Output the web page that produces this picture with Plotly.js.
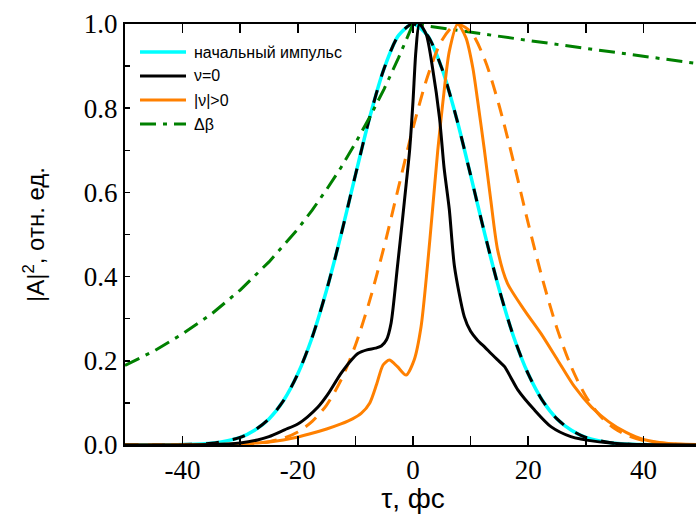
<!DOCTYPE html>
<html>
<head>
<meta charset="utf-8">
<script src="https://cdn.plot.ly/plotly-3.0.1.min.js"></script>
<style>
  html, body { margin: 0; padding: 0; overflow: hidden; background: #fff; }
  #chart { width: 702px; height: 514px; }
</style>
</head>
<body>
<div id="chart"></div>
<script>
// ---- data ----
// initial pulse (cyan) – also traced by the black dashed curve
var tauInit = [-50, -45, -40, -35, -30, -27.5, -25, -22.5, -20, -17.5, -15, -12.5, -10, -7.5, -5, -2.5, 0,
               2.5, 5, 7.5, 10, 12.5, 15, 17.5, 20, 22.5, 25, 27.5, 30, 35, 40, 45, 50];
var aInit   = [0, 0, 0.001, 0.004, 0.018, 0.035, 0.062, 0.105, 0.169, 0.256, 0.368, 0.499, 0.641, 0.779, 0.895, 0.973, 1.0,
               0.973, 0.895, 0.779, 0.641, 0.499, 0.368, 0.256, 0.169, 0.105, 0.062, 0.035, 0.018, 0.004, 0.001, 0, 0];

// ν = 0 (black solid)
var tauNu0 = [-50, -40, -35, -30, -27, -25, -22.3, -20, -18.3, -16.5, -14.8, -12.5, -10.5, -9.5, -8, -6.5, -5.5, -4.6, -3.8,
              -2.7, -1.8, -1.2, -0.6, 0, 0.5, 1.1, 2.3, 3.4, 4.6, 5.4, 6.3, 7.2, 8.9, 10, 11.2, 12.5, 13.5, 15, 15.9, 17,
              18.2, 21.1, 24, 27.4, 32, 36, 40, 50];
var aNu0   = [0, 0, 0.001, 0.005, 0.012, 0.02, 0.036, 0.05, 0.067, 0.09, 0.12, 0.17, 0.205, 0.218, 0.226, 0.23, 0.235, 0.25, 0.29,
              0.424, 0.539, 0.618, 0.698, 0.816, 0.935, 1.0, 0.975, 0.895, 0.777, 0.658, 0.56, 0.424, 0.305, 0.27, 0.249, 0.232, 0.218, 0.198, 0.186, 0.16,
              0.131, 0.083, 0.043, 0.02, 0.008, 0.003, 0.001, 0];

// |ν| > 0 (orange solid)
var tauNu1 = [-50, -45, -35, -30, -27, -24, -21, -18, -15, -12.5, -10.5, -9, -7.5, -6.3, -5.2, -4.1, -2.7, -1.2, 0.2, 1.4, 2.5,
              3.4, 4.3, 5.2, 6.3, 7.75, 9.2, 10.4, 11.2, 12.4, 13.5, 14.7, 16.4, 19.3, 22.2, 25.1, 28, 31, 34,
              37, 40, 44, 50];
var aNu1   = [0, 0, 0.001, 0.003, 0.005, 0.009, 0.016, 0.026, 0.038, 0.05, 0.062, 0.075, 0.1, 0.145, 0.19, 0.202, 0.186, 0.166, 0.202, 0.281, 0.424,
              0.56, 0.70, 0.816, 0.935, 1.0, 0.967, 0.895, 0.82, 0.70, 0.582, 0.463, 0.384, 0.321, 0.265, 0.202, 0.139, 0.09, 0.055,
              0.03, 0.013, 0.004, 0.001];

// shifted pulse (orange dashed)
var tauShift = [-50, -40, -35, -30, -27.5, -25, -22.5, -20, -17.5, -15, -12.5, -10, -7.5, -5, -2.5, 0, 2.5, 5, 7.5,
                10, 12.5, 15, 17.5, 20, 22.5, 25, 27.5, 30, 32.5, 35, 37.5, 40, 45, 50];
var aShift   = [0, 0, 0.0003, 0.0016, 0.0037, 0.0079, 0.016, 0.031, 0.056, 0.095, 0.154, 0.237, 0.344, 0.472, 0.613, 0.753, 0.874, 0.961, 0.999,
                0.982, 0.914, 0.804, 0.670, 0.527, 0.393, 0.277, 0.185, 0.116, 0.069, 0.039, 0.021, 0.0106, 0.0023, 0.0004];

// Δβ (green dash-dot)
var tauBeta = [-50, -45, -40, -35, -30, -25, -20, -17.5, -15, -12.5, -10, -7.5, -5, -2.5, 0, 5, 10, 20, 30, 40, 50];
var aBeta   = [0.189, 0.223, 0.264, 0.311, 0.368, 0.435, 0.513, 0.558, 0.607, 0.659, 0.717, 0.779, 0.846, 0.920, 1.0,
               0.990, 0.980, 0.961, 0.942, 0.923, 0.905];

var legendNames = ['начальный импульс', 'ν=0', '|ν|>0', 'Δβ'];
var xTickVals = [-40, -20, 0, 20, 40];
var xTickText = ['-40', '-20', '0', '20', '40'];
var yTickVals = [0, 0.2, 0.4, 0.6, 0.8, 1.0];
var yTickText = ['0.0', '0.2', '0.4', '0.6', '0.8', '1.0'];

// ---- styles ----
var styles = [
  {color: '#00FFFF', width: 3.5, dash: 'solid'},   // initial
  {color: '#000000', width: 3, dash: 'solid'},     // ν=0
  {color: '#FF8000', width: 3, dash: 'solid'},     // |ν|>0
  {color: '#008000', width: 3, dash: '16px,7px,4px,7px'} // Δβ
];

var traces = [
  {x: tauInit, y: aInit, mode: 'lines', name: legendNames[0],
   line: {color: styles[0].color, width: styles[0].width, shape: 'spline', smoothing: 0.8}},
  {x: tauInit, y: aInit, mode: 'lines', name: 'initial (dashed)',
   line: {color: '#000000', width: 3, dash: '13px,14px', shape: 'spline', smoothing: 0.8}},
  {x: tauBeta, y: aBeta, mode: 'lines', name: legendNames[3],
   line: {color: styles[3].color, width: styles[3].width, dash: styles[3].dash}},
  {x: tauShift, y: aShift, mode: 'lines', name: 'shifted (dashed)',
   line: {color: '#FF8000', width: 3, dash: '14px,9px', shape: 'spline', smoothing: 0.8}},
  {x: tauNu1, y: aNu1, mode: 'lines', name: legendNames[2],
   line: {color: styles[2].color, width: styles[2].width, shape: 'spline', smoothing: 0.7}},
  {x: tauNu0, y: aNu0, mode: 'lines', name: legendNames[1],
   line: {color: styles[1].color, width: styles[1].width, shape: 'spline', smoothing: 0.7}}
];

// ---- hand-placed legend (paper coords) ----
var plotL = 125, plotW = 576, plotT = 24, plotH = 421;
function px2x(p) { return (p - plotL) / plotW; }
function px2y(p) { return (plotT + plotH - p) / plotH; }
var legRows = [52, 76, 100, 124];
var shapes = [], annotations = [];
for (var i = 0; i < 4; i++) {
  shapes.push({type: 'line', xref: 'paper', yref: 'paper',
    x0: px2x(140), x1: px2x(186), y0: px2y(legRows[i]), y1: px2y(legRows[i]),
    line: {color: styles[i].color, width: styles[i].width, dash: styles[i].dash}});
  annotations.push({xref: 'paper', yref: 'paper', x: px2x(192), y: px2y(legRows[i]),
    xanchor: 'left', yanchor: 'middle', showarrow: false, text: legendNames[i],
    font: {family: 'Liberation Sans', size: 16, color: '#000'}});
}

var tickFont = {family: 'Liberation Serif', size: 27, color: '#000'};

var layout = {
  width: 702, height: 514,
  margin: {l: plotL, r: 702 - plotL - plotW, t: plotT, b: 514 - plotT - plotH},
  paper_bgcolor: '#fff', plot_bgcolor: '#fff',
  showlegend: false,
  shapes: shapes,
  annotations: annotations,
  xaxis: {
    range: [-50, 50], showgrid: false, zeroline: false,
    showline: true, linecolor: '#000', linewidth: 2, mirror: 'ticks',
    ticks: 'inside', ticklen: 9, tickwidth: 1.5, tickcolor: '#000',
    tickmode: 'array', tickvals: xTickVals, ticktext: xTickText,
    minor: {dtick: 10, tick0: 0, ticks: 'inside', ticklen: 9, tickwidth: 1.5, tickcolor: '#000', showgrid: false},
    tickfont: tickFont,
    title: {text: 'τ, фс', font: {family: 'Liberation Sans', size: 28, color: '#000'}, standoff: 3}
  },
  yaxis: {
    range: [0, 1.0], showgrid: false, zeroline: false,
    showline: true, linecolor: '#000', linewidth: 2, mirror: 'ticks',
    ticks: 'inside', ticklen: 5, tickwidth: 1.5, tickcolor: '#000',
    tickmode: 'array', tickvals: yTickVals, ticktext: yTickText,
    minor: {dtick: 0.1, tick0: 0, ticks: 'inside', ticklen: 5, tickwidth: 1.5, tickcolor: '#000', showgrid: false},
    tickfont: tickFont,
    title: {text: '|A|<sup>2</sup>, отн. ед.', font: {family: 'Liberation Sans', size: 24, color: '#000'}, standoff: 32}
  }
};

Plotly.newPlot('chart', traces, layout, {displayModeBar: false, staticPlot: true});
</script>
</body>
</html>
